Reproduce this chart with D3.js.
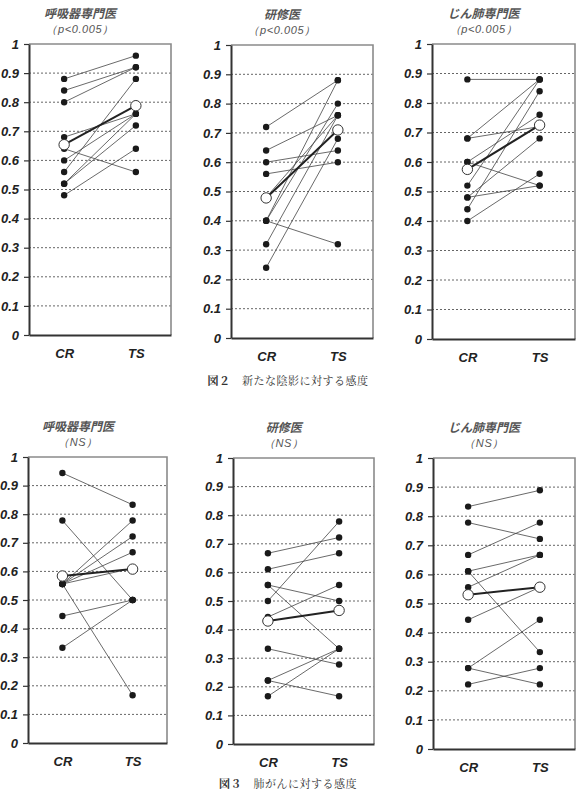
<!DOCTYPE html>
<html>
<head>
<meta charset="utf-8">
<script src="https://cdn.jsdelivr.net/npm/d3@7/dist/d3.min.js"></script>
<style>
  body { margin: 0; background: #fff; }
  svg { display: block; }
</style>
</head>
<body>
<svg id="chart" width="577" height="790"></svg>
<script>
const categories = ['CR', 'TS'];
const yTicks = [0, 0.1, 0.2, 0.3, 0.4, 0.5, 0.6, 0.7, 0.8, 0.9, 1];

const captionNums = ['図２', '図３'];
const captions = ['新たな陰影に対する感度', '肺がんに対する感度'];
const groupNames = ['呼吸器専門医', '研修医', 'じん肺専門医'];
const pLabels = ['（p<0.005）', '（NS）'];

// 図2 新たな陰影 : each index is one reader, CR -> TS
const resp2CR = [0.88, 0.84, 0.80, 0.56, 0.64, 0.48, 0.68, 0.60, 0.52, 0.52];
const resp2TS = [0.96, 0.92, 0.92, 0.88, 0.56, 0.64, 0.76, 0.76, 0.76, 0.72];
const resp2Mean = [0.654, 0.788];

const train2CR = [0.72, 0.64, 0.60, 0.56, 0.40, 0.40, 0.40, 0.48, 0.32, 0.24];
const train2TS = [0.88, 0.76, 0.64, 0.60, 0.32, 0.88, 0.80, 0.76, 0.76, 0.68];
const train2Mean = [0.478, 0.71];

const pn2CR = [0.88, 0.68, 0.68, 0.60, 0.60, 0.52, 0.48, 0.48, 0.44, 0.40];
const pn2TS = [0.88, 0.88, 0.72, 0.52, 0.76, 0.88, 0.52, 0.68, 0.84, 0.56];
const pn2Mean = [0.575, 0.725];

// 図3 肺がん
const resp3CR = [0.944, 0.778, 0.556, 0.556, 0.556, 0.556, 0.556, 0.444, 0.333];
const resp3TS = [0.833, 0.500, 0.778, 0.722, 0.667, 0.611, 0.167, 0.500, 0.500];
const resp3Mean = [0.584, 0.608];

const train3CR = [0.667, 0.611, 0.556, 0.556, 0.500, 0.444, 0.333, 0.222, 0.222, 0.167];
const train3TS = [0.722, 0.667, 0.500, 0.333, 0.778, 0.556, 0.278, 0.333, 0.167, 0.333];
const train3Mean = [0.43, 0.467];

const pn3CR = [0.833, 0.778, 0.667, 0.611, 0.611, 0.556, 0.444, 0.278, 0.278, 0.222];
const pn3TS = [0.889, 0.722, 0.778, 0.667, 0.333, 0.667, 0.556, 0.444, 0.222, 0.278];
const pn3Mean = [0.53, 0.556];

// panel boxes in page pixels
const panels = [
  {cr: resp2CR,  ts: resp2TS,  mean: resp2Mean,  name: 0, p: 0, left: 29,  right: 171, top: 44,  bottom: 335},
  {cr: train2CR, ts: train2TS, mean: train2Mean, name: 1, p: 0, left: 231, right: 373, top: 45,  bottom: 338},
  {cr: pn2CR,    ts: pn2TS,    mean: pn2Mean,    name: 2, p: 0, left: 432, right: 575, top: 44,  bottom: 339},
  {cr: resp3CR,  ts: resp3TS,  mean: resp3Mean,  name: 0, p: 1, left: 28,  right: 167, top: 457, bottom: 743},
  {cr: train3CR, ts: train3TS, mean: train3Mean, name: 1, p: 1, left: 233, right: 374, top: 458, bottom: 744},
  {cr: pn3CR,    ts: pn3TS,    mean: pn3Mean,    name: 2, p: 1, left: 433, right: 575, top: 458, bottom: 749}
];

const latin = '"Liberation Sans", Arial, sans-serif';
const jp = '"Noto Sans CJK JP", sans-serif';

const svg = d3.select('#chart');

panels.forEach(pn => {
  const width = pn.right - pn.left,
        height = pn.bottom - pn.top;

  const g = svg.append('g')
      .attr('transform', `translate(${pn.left}, ${pn.top})`);

  const xScale = d3.scalePoint()
      .domain(categories)
      .range([0, width])
      .padding(0.49);

  const yScale = d3.scaleLinear()
      .domain([0, 1])
      .range([height, 0]);

  // dotted grid
  g.append('g')
    .selectAll('line')
    .data(yTicks.filter(d => d > 0 && d < 1))
    .join('line')
      .attr('x1', 0)
      .attr('x2', width)
      .attr('y1', d => yScale(d))
      .attr('y2', d => yScale(d))
      .attr('stroke', '#666')
      .attr('stroke-width', 1)
      .attr('stroke-dasharray', '2,2');

  // frame top and right
  g.append('path')
    .attr('d', `M0,${yScale(1)}H${width}V${height}`)
    .attr('fill', 'none')
    .attr('stroke', '#8a8a8a')
    .attr('stroke-width', 1.6);

  // axes
  const yAxis = g.append('g')
      .call(d3.axisLeft(yScale)
              .tickValues(yTicks)
              .tickFormat(d => d === 0 || d === 1 ? String(d) : d3.format('.1f')(d))
              .tickSize(5)
              .tickSizeOuter(0)
              .tickPadding(5));
  yAxis.select('.domain').attr('stroke', '#333').attr('stroke-width', 2);
  yAxis.selectAll('.tick line').attr('stroke', '#333').attr('stroke-width', 1.2);
  yAxis.selectAll('text')
      .attr('fill', '#222')
      .style('font', `italic bold 13px ${latin}`);

  const xAxis = g.append('g')
      .attr('transform', `translate(0, ${height})`)
      .call(d3.axisBottom(xScale).tickSize(0).tickSizeOuter(0).tickPadding(14));
  xAxis.select('.domain').attr('stroke', '#333').attr('stroke-width', 2);
  xAxis.selectAll('text')
      .attr('fill', '#222')
      .style('font', `italic bold 13px ${latin}`);

  // readers
  const pairs = pn.cr.map((v, i) => [v, pn.ts[i]]);
  const line = d3.line()
      .x((d, i) => xScale(categories[i]))
      .y(d => yScale(d));

  g.append('g')
    .selectAll('path')
    .data(pairs)
    .join('path')
      .attr('d', line)
      .attr('fill', 'none')
      .attr('stroke', '#444')
      .attr('stroke-width', 0.8);

  g.append('g')
    .selectAll('circle')
    .data(pairs.flatMap(p => p.map((v, i) => ({cat: categories[i], v}))))
    .join('circle')
      .attr('cx', d => xScale(d.cat))
      .attr('cy', d => yScale(d.v))
      .attr('r', 3.2)
      .attr('fill', '#1a1a1a');

  // mean
  g.append('path')
    .attr('d', line(pn.mean))
    .attr('fill', 'none')
    .attr('stroke', '#222')
    .attr('stroke-width', 2);

  g.append('g')
    .selectAll('circle')
    .data(pn.mean)
    .join('circle')
      .attr('cx', (d, i) => xScale(categories[i]))
      .attr('cy', d => yScale(d))
      .attr('r', 5.2)
      .attr('fill', '#fff')
      .attr('stroke', '#333')
      .attr('stroke-width', 1);

  // titles
  const tx = width * 0.36;
  g.append('text')
    .attr('x', tx)
    .attr('y', -26)
    .attr('text-anchor', 'middle')
    .attr('fill', '#555')
    .style('font', `italic bold 12px ${jp}`)
    .text(groupNames[pn.name]);

  g.append('text')
    .attr('x', tx)
    .attr('y', -11)
    .attr('text-anchor', 'middle')
    .attr('fill', '#555')
    .style('font', `italic 11px ${latin}`)
    .style('letter-spacing', '0.6px')
    .text(pLabels[pn.p]);
});

// figure captions
const cap = svg.selectAll('text.caption')
  .data(captions)
  .join('text')
    .attr('class', 'caption')
    .attr('x', 288)
    .attr('y', (d, i) => i === 0 ? 385 : 788)
    .attr('text-anchor', 'middle')
    .attr('fill', '#333')
    .style('font', '11px "Noto Serif CJK JP", "Noto Sans CJK JP", serif')
    .style('letter-spacing', '0.5px');
cap.append('tspan')
    .style('font-weight', 'bold')
    .text((d, i) => captionNums[i]);
cap.append('tspan')
    .text(d => '　' + d);
</script>
</body>
</html>
